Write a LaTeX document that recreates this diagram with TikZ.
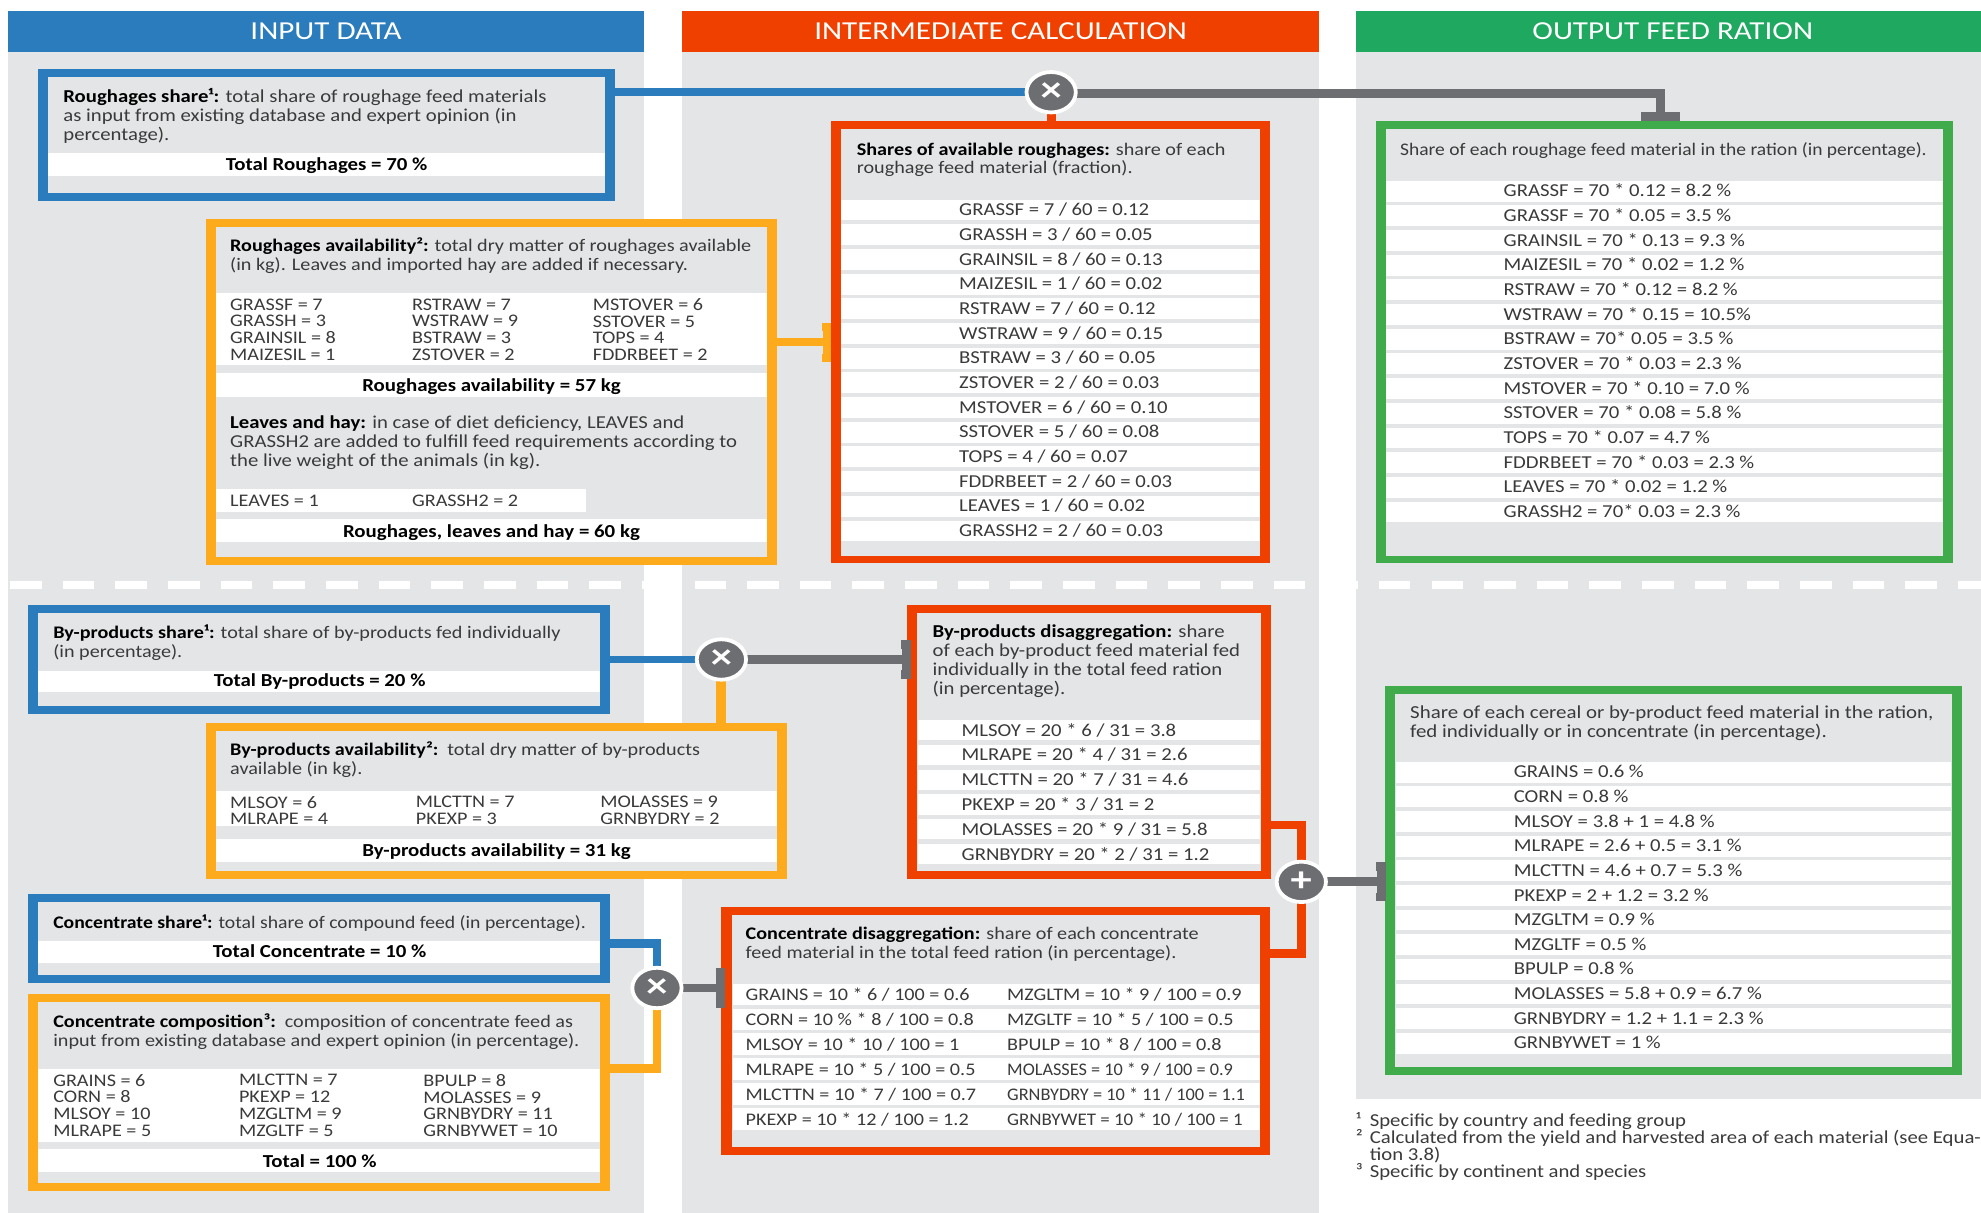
\documentclass[tikz,border=0pt]{standalone}
\usepackage{graphicx}
\usepackage{fontspec}
\setmainfont[FakeStretch=1.14]{Carlito}
\newfontfamily\hdfont[FakeStretch=1.2]{Carlito}
\usetikzlibrary{arrows.meta,calc,shapes.geometric}
\definecolor{cblue}{HTML}{2A7CBD}
\definecolor{cred}{HTML}{EF4000}
\definecolor{cgreenh}{HTML}{1FA85F}
\definecolor{cgreen}{HTML}{3FAB4A}
\definecolor{corange}{HTML}{FDAA1D}
\definecolor{cbg}{HTML}{E3E5E7}
\definecolor{cgray}{HTML}{6D6E71}
\definecolor{ctext}{HTML}{3A3A3A}
\newcommand\bodyf{\fontsize{14}{15}\selectfont\lineskiplimit=-10pt\relax}
\newcommand\widef{\fontsize{14.4}{15}\selectfont\lineskiplimit=-10pt\relax}
\newcommand\widerf{\fontsize{14.5}{15}\selectfont\lineskiplimit=-10pt\relax}
\newcommand\gridf{\fontsize{14}{13.3}\selectfont\lineskiplimit=-10pt\relax}
\newcommand\footf{\fontsize{14.4}{13.3}\selectfont\lineskiplimit=-10pt\relax}
\newcommand\stripfill[4]{\fill[white] (#1,#2) rectangle (#3,#4);}
\tikzset{
  x=1pt,y=-1pt,
  header/.style={inner sep=0,text=white,font=\hdfont\fontsize{20.5}{22}\selectfont,anchor=center},
  boxb/.style={fill=cblue,inner sep=0,outer sep=0},
  boxo/.style={fill=corange,inner sep=0,outer sep=0},
  boxr/.style={fill=cred,inner sep=0,outer sep=0},
  boxg/.style={fill=cgreen,inner sep=0,outer sep=0},
  txt/.style={anchor=north west,inner sep=0,align=left,text=ctext,font=\bodyf},
  widetxt/.style={txt,font=\widef},
  widertxt/.style={txt,font=\widerf},
  gridtxt/.style={txt,font=\gridf},
  foottxt/.style={txt,font=\footf},
  ctxt/.style={anchor=north,inner sep=0,align=center,text=black,font=\fontsize{14.5}{15}\selectfont\bfseries},
  op/.style={ellipse,fill=cgray,draw=white,line width=3pt,minimum width=39pt,minimum height=32pt,inner sep=0,text=white,font=\hdfont\fontsize{28}{28}\selectfont\bfseries},
  lnkh/.style={line width=6.3pt},
  lnkv/.style={line width=8pt},
  lnk/.style={line width=7pt},
  tbar/.style={-{Bar[width=31pt,length=7.5pt]}},
}
\newcommand\bx[6]{\node[#2,minimum width={(#5-#3)*1pt},minimum height={(#6-#4)*1pt}] (#1) at ({(#3+#5)/2},{(#4+#6)/2}) {};
  \fill[cbg] (#3+8,#4+6.3) rectangle (#5-8,#6-6.3);}
\newcommand\lab[4]{\node[txt] (#1) at (#2,{#3-6}) {\strut #4};}
\newcommand\labw[4]{\node[widetxt] (#1) at (#2,{#3-6}) {\strut #4};}
\newcommand\grd[4]{\node[gridtxt] (#1) at (#2,{#3-5}) {\strut #4};}
\newcommand\ctr[4]{\node[ctxt] (#1) at (#2,{#3-6}) {\strut #4};}
\newcommand\hdbold[1]{\textcolor{black}{\bfseries #1}}
\newcommand\nar[2]{\scalebox{#1}[1]{#2}}
\begin{document}
\begin{tikzpicture}
\useasboundingbox (0,0) rectangle (1568,960);
% columns
\fill[cbg] (6,41) rectangle (510,960);
\fill[cbg] (540,41) rectangle (1044,960);
\fill[cbg] (1073,41) rectangle (1568,870);
\node[header,fill=cblue,minimum width=504pt,minimum height=32pt] (hinput) at (258,25) {INPUT DATA};
\node[header,fill=cred,minimum width=504pt,minimum height=32pt] (hinter) at (792,25) {INTERMEDIATE CALCULATION};
\node[header,fill=cgreenh,minimum width=502pt,minimum height=32pt] (houtput) at (1324,25) {OUTPUT FEED RATION};
% dashed separator
\draw[white,line width=6pt,dash pattern=on 25pt off 16.67pt] (8,463) -- (1568,463);

\coordinate (op1c) at (832,73);
\coordinate (op2c) at (571,522);
\coordinate (op3c) at (520,782);
\coordinate (op4c) at (1030,698);

% boxes
\bx{b1}{boxb}{30}{55}{487}{159}
\bx{b2}{boxo}{163}{173}{615}{447}
\bx{b3}{boxr}{658}{96}{1005}{446}
\bx{b4}{boxg}{1089}{96}{1546}{446}
\bx{b5}{boxb}{22}{479}{483}{565}
\bx{b6}{boxo}{163}{572}{623}{696}
\bx{b7}{boxr}{718}{479}{1006}{696}
\bx{b8}{boxb}{22}{708}{483}{778}
\bx{b9}{boxo}{22}{787}{483}{943}
\bx{b10}{boxr}{571}{718}{1005}{914}
\bx{b11}{boxg}{1096}{543}{1553}{851}

% connectors
\draw[lnkh,cblue] (b1.east |- op1c) -- (op1c);
\draw[lnk,cgray,tbar] ([yshift=-1pt]op1c) -| ([xshift=-3pt]b4.north);
\draw[lnk,cred] (op1c) -- (op1c |- b3.north);
\draw[lnkh,corange,tbar] (b2.east) ++(0,-39) -- ++(43,0);
\draw[lnkh,cblue] (b5.east |- op2c) -- (op2c);
\draw[lnk,cgray,tbar] (op2c) -- ([xshift=3pt]op2c -| b7.west);
\draw[lnkv,corange] (op2c) -- (op2c |- b6.north);
\draw[lnk,cblue] (b8.east) ++(0,4) -| (op3c);
\draw[lnk,cgray,tbar] (op3c) -- ([xshift=3pt]op3c -| b10.west);
\draw[lnk,corange] (op3c) |- ([yshift=19pt]b9.east);
\draw[lnk,cred] (b7.east |- 0,653) -| (op4c);
\draw[lnk,cred] (b10.east |- 0,755) -| (op4c);
\draw[lnk,cgray,tbar] (op4c) -- ([xshift=1pt]op4c -| b11.west);

\node[op] (op1) at (op1c) {×};
\node[op] (op2) at (op2c) {×};
\node[op] (op3) at (op3c) {×};
\node[op] (op4) at (op4c) {+};

% b1
\labw{t1}{50}{76}{\hdbold{Roughages share¹:} total share of roughage feed materials\\as input from existing database and expert opinion (in\\percentage).}
\stripfill{38}{121}{479}{139}
\ctr{t1b}{258.5}{130}{Total Roughages = 70 \%}

% b2
\lab{t2}{182}{194}{\hdbold{Roughages availability²:} total dry matter of roughages available\\(in kg). Leaves and imported hay are added if necessary.}
\stripfill{171}{232}{607}{289}
\stripfill{171}{295}{607}{314}
\grd{t2a}{182}{241}{GRASSF = 7\\GRASSH = 3\\GRAINSIL = 8\\MAIZESIL = 1}
\grd{t2c}{326}{241}{RSTRAW = 7\\WSTRAW = 9\\BSTRAW = 3\\ZSTOVER = 2}
\grd{t2d}{469}{241}{MSTOVER = 6\\SSTOVER = 5\\TOPS = 4\\FDDRBEET = 2}
\ctr{t2e}{389}{305}{Roughages availability = 57 kg}
\labw{t2f}{182}{334.5}{\hdbold{Leaves and hay:} in case of diet deficiency, LEAVES and\\GRASSH2 are added to fulfill feed requirements according to\\the live weight of the animals (in kg).}
\stripfill{171}{387}{464}{405}
\lab{t2g}{182}{396}{LEAVES = 1}
\lab{t2h}{326}{396}{GRASSH2 = 2}
\stripfill{171}{411}{607}{429}
\ctr{t2i}{389}{421}{Roughages, leaves and hay = 60 kg}

% b3
\lab{t3}{678}{118}{\hdbold{Shares of available roughages:} share of each\\roughage feed material (fraction).}
\foreach \t [count=\i] in {GRASSF = 7 / 60 = 0.12,GRASSH = 3 / 60 = 0.05,GRAINSIL = 8 / 60 = 0.13,MAIZESIL = 1 / 60 = 0.02,RSTRAW = 7 / 60 = 0.12,WSTRAW = 9 / 60 = 0.15,BSTRAW = 3 / 60 = 0.05,ZSTOVER = 2 / 60 = 0.03,MSTOVER = 6 / 60 = 0.10,SSTOVER = 5 / 60 = 0.08,TOPS = 4 / 60 = 0.07,FDDRBEET = 2 / 60 = 0.03,LEAVES = 1 / 60 = 0.02,GRASSH2 = 2 / 60 = 0.03}{
  \pgfmathsetmacro\yy{166+(\i-1)*19.54}
  \fill[white] (666,\yy-8) rectangle (997,\yy+8.5);
  \labw{r\i}{759}{\yy}{\t}
}

% b4
\lab{t4}{1108}{118}{\nar{.967}{Share of each roughage feed material in the ration (in percentage).}}
\foreach \t [count=\i] in {GRASSF = 70 * 0.12 = 8.2 \%,GRASSF = 70 * 0.05 = 3.5 \%,GRAINSIL = 70 * 0.13 = 9.3 \%,MAIZESIL = 70 * 0.02 = 1.2 \%,RSTRAW = 70 * 0.12 = 8.2 \%,WSTRAW = 70 * 0.15 = 10.5\%,BSTRAW = 70* 0.05 = 3.5 \%,ZSTOVER = 70 * 0.03 = 2.3 \%,MSTOVER = 70 * 0.10 = 7.0 \%,SSTOVER = 70 * 0.08 = 5.8 \%,TOPS = 70 * 0.07 = 4.7 \%,FDDRBEET = 70 * 0.03 = 2.3 \%,LEAVES = 70 * 0.02 = 1.2 \%,GRASSH2 = 70* 0.03 = 2.3 \%}{
  \pgfmathsetmacro\yy{151+(\i-1)*19.54}
  \fill[white] (1097,\yy-8) rectangle (1538,\yy+8.5);
  \labw{o\i}{1190}{\yy}{\t}
}

% b5
\lab{t5}{42}{500}{\hdbold{By-products share¹:} total share of by-products fed individually\\(in percentage).}
\stripfill{30}{531}{475}{548}
\ctr{t5b}{253}{539}{Total By-products = 20 \%}

% b6
\lab{t6}{182}{593}{\hdbold{By-products availability²:}\, total dry matter of by-products\\available (in kg).}
\stripfill{171}{626}{615}{654}
\stripfill{171}{664}{615}{682}
\grd{t6a}{182}{635}{MLSOY = 6\\MLRAPE = 4}
\grd{t6c}{329}{635}{MLCTTN = 7\\PKEXP = 3}
\grd{t6d}{475}{635}{MOLASSES = 9\\GRNBYDRY = 2}
\ctr{t6e}{393}{673}{By-products availability = 31 kg}

% b7
\labw{t7}{738}{500}{\hdbold{By-products disaggregation:} share\\of each by-product feed material fed\\individually in the total feed ration\\(in percentage).}
\foreach \t [count=\i] in {MLSOY = 20 * 6 / 31 = 3.8,MLRAPE = 20 * 4 / 31 = 2.6,MLCTTN = 20 * 7 / 31 = 4.6,PKEXP = 20 * 3 / 31 = 2,MOLASSES = 20 * 9 / 31 = 5.8,GRNBYDRY = 20 * 2 / 31 = 1.2}{
  \pgfmathsetmacro\yy{578+(\i-1)*19.6}
  \fill[white] (727,\yy-8) rectangle (997,\yy+8);
  \labw{d\i}{761}{\yy}{\t}
}

% b8
\lab{t8}{42}{730}{\nar{.977}{\hdbold{Concentrate share¹:} total share of compound feed (in percentage).}}
\stripfill{30}{744.5}{475}{762}
\ctr{t8b}{253}{753}{Total Concentrate = 10 \%}

% b9
\lab{t9}{42}{808}{\hdbold{Concentrate composition³:}\, composition of concentrate feed as\\input from existing database and expert opinion (in percentage).}
\stripfill{30}{846}{475}{904}
\stripfill{30}{909.5}{475}{928}
\grd{t9a}{42}{855}{GRAINS = 6\\CORN = 8\\MLSOY = 10\\MLRAPE = 5}
\grd{t9c}{189}{855}{MLCTTN = 7\\PKEXP = 12\\MZGLTM = 9\\MZGLTF = 5}
\grd{t9d}{335}{855}{BPULP = 8\\MOLASSES = 9\\GRNBYDRY = 11\\GRNBYWET = 10}
\ctr{t9e}{253}{919}{Total = 100 \%}

% b10
\lab{t10}{590}{739}{\hdbold{Concentrate disaggregation:} share of each concentrate\\feed material in the total feed ration (in percentage).}
\foreach \ta/\tb [count=\i] in {{GRAINS = 10 * 6 / 100 = 0.6}/{MZGLTM = 10 * 9 / 100 = 0.9},{CORN = 10 \% * 8 / 100 = 0.8}/{MZGLTF = 10 * 5 / 100 = 0.5},{MLSOY = 10 * 10 / 100 = 1}/{BPULP = 10 * 8 / 100 = 0.8},{MLRAPE = 10 * 5 / 100 = 0.5}/{\nar{.905}{MOLASSES = 10 * 9 / 100 = 0.9}},{MLCTTN = 10 * 7 / 100 = 0.7}/{\nar{.91}{GRNBYDRY = 10 * 11 / 100 = 1.1}},{PKEXP = 10 * 12 / 100 = 1.2}/{\nar{.94}{GRNBYWET = 10 * 10 / 100 = 1}}}{
  \pgfmathsetmacro\yy{787+(\i-1)*19.75}
  \fill[white] (580,\yy-8.5) rectangle (997,\yy+8.5);
  \lab{ca\i}{590}{\yy}{\ta}
  \lab{cb\i}{797}{\yy}{\tb}
}

% b11
\node[widertxt] (t11) at (1116,558) {\strut Share of each cereal or by-product feed material in the ration,\\fed individually or in concentrate (in percentage).};
\foreach \t [count=\i] in {GRAINS = 0.6 \%,CORN = 0.8 \%,MLSOY = 3.8 + 1 = 4.8 \%,MLRAPE = 2.6 + 0.5 = 3.1 \%,MLCTTN = 4.6 + 0.7 = 5.3 \%,PKEXP = 2 + 1.2 = 3.2 \%,MZGLTM = 0.9 \%,MZGLTF = 0.5 \%,BPULP = 0.8 \%,MOLASSES = 5.8 + 0.9 = 6.7 \%,GRNBYDRY = 1.2 + 1.1 = 2.3 \%,GRNBYWET = 1 \%}{
  \pgfmathsetmacro\yy{611+(\i-1)*19.5}
  \fill[white] (1105,\yy-8) rectangle (1544,\yy+8.5);
  \labw{f\i}{1198}{\yy}{\t}
}

% footnotes
\node[foottxt] (fn) at (1073,880.5) {\strut\makebox[11pt][l]{¹}Specific by country and feeding group\\
\makebox[11pt][l]{²}Calculated from the yield and harvested area of each material (see Equa-\\
\makebox[11pt][l]{}tion 3.8)\\
\makebox[11pt][l]{³}Specific by continent and species};
\end{tikzpicture}
\end{document}
